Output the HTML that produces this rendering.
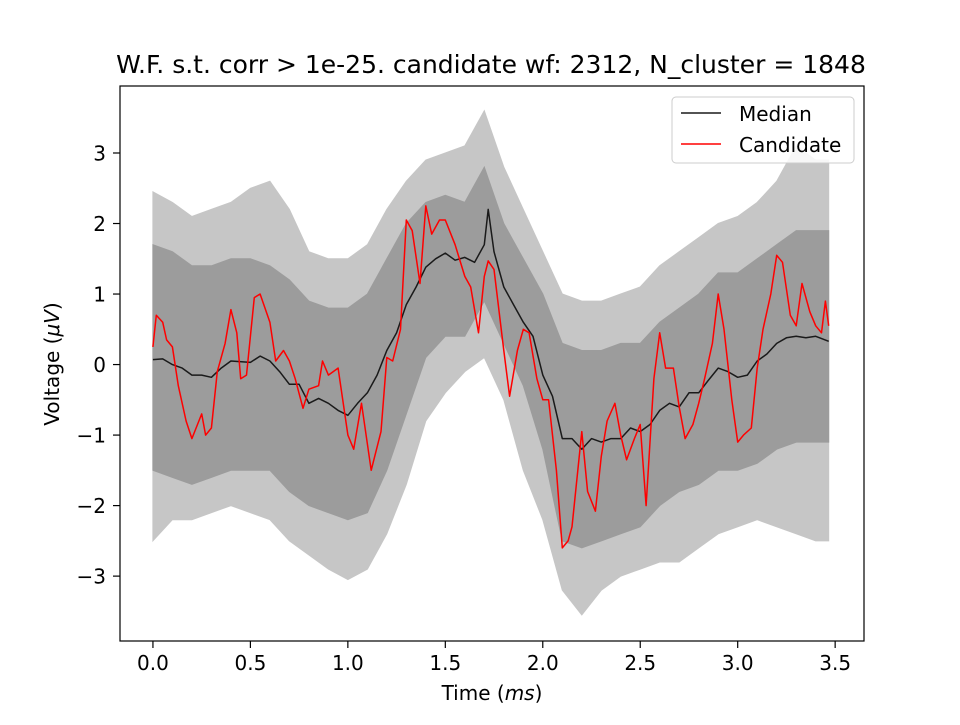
<!DOCTYPE html>
<html><head><meta charset="utf-8"><style>
body{margin:0;background:#fff}
svg text{font-family:"DejaVu Sans","Liberation Sans",sans-serif;fill:#000}
</style></head><body>
<svg id="chart" width="960" height="720" viewBox="0 0 960 720" xmlns="http://www.w3.org/2000/svg">
<rect width="960" height="720" fill="#fff"/>
<g id="plot"></g>
</svg>
<script>
const envT=[0,0.1,0.2,0.3,0.4,0.5,0.6,0.7,0.8,0.9,1.0,1.1,1.2,1.3,1.4,1.5,1.6,1.7,1.8,1.9,2.0,2.1,2.2,2.3,2.4,2.5,2.6,2.7,2.8,2.9,3.0,3.1,3.2,3.3,3.4,3.467];
const innerUp=[1.7,1.6,1.4,1.4,1.5,1.5,1.4,1.2,0.9,0.8,0.8,1.0,1.5,2.0,2.3,2.4,2.3,2.8,2.0,1.5,1.0,0.3,0.2,0.2,0.3,0.3,0.6,0.8,1.0,1.3,1.3,1.5,1.7,1.9,1.9,1.9];
const innerLo=[-1.5,-1.6,-1.7,-1.6,-1.5,-1.5,-1.5,-1.8,-2.0,-2.1,-2.2,-2.1,-1.5,-0.7,0.1,0.4,0.4,0.9,0.3,-0.3,-1.2,-2.5,-2.6,-2.5,-2.4,-2.3,-2.0,-1.8,-1.7,-1.5,-1.5,-1.4,-1.2,-1.1,-1.1,-1.1];
const outerUp=[2.45,2.3,2.1,2.2,2.3,2.5,2.6,2.2,1.6,1.5,1.5,1.7,2.2,2.6,2.9,3.0,3.1,3.6,2.8,2.2,1.6,1.0,0.9,0.9,1.0,1.1,1.4,1.6,1.8,2.0,2.1,2.3,2.6,3.1,2.9,2.9];
const outerLo=[-2.5,-2.2,-2.2,-2.1,-2.0,-2.1,-2.2,-2.5,-2.7,-2.9,-3.05,-2.9,-2.4,-1.7,-0.8,-0.4,-0.1,0.1,-0.5,-1.5,-2.2,-3.2,-3.55,-3.2,-3.0,-2.9,-2.8,-2.8,-2.6,-2.4,-2.3,-2.2,-2.3,-2.4,-2.5,-2.5];
const medT=[0,0.05,0.1,0.15,0.2,0.25,0.3,0.35,0.4,0.5,0.55,0.6,0.65,0.7,0.75,0.8,0.85,0.9,0.95,1.0,1.05,1.1,1.15,1.2,1.25,1.3,1.35,1.4,1.45,1.5,1.55,1.6,1.65,1.7,1.72,1.75,1.8,1.85,1.9,1.95,2.0,2.05,2.1,2.15,2.2,2.25,2.3,2.35,2.4,2.45,2.5,2.55,2.6,2.65,2.7,2.75,2.8,2.85,2.9,2.95,3.0,3.05,3.1,3.15,3.2,3.25,3.3,3.35,3.4,3.467];
const medV=[0.07,0.08,0.0,-0.05,-0.15,-0.15,-0.18,-0.05,0.05,0.03,0.12,0.05,-0.1,-0.28,-0.28,-0.55,-0.48,-0.55,-0.65,-0.72,-0.55,-0.4,-0.15,0.2,0.45,0.85,1.1,1.38,1.5,1.58,1.48,1.52,1.45,1.7,2.2,1.6,1.1,0.85,0.6,0.4,-0.15,-0.45,-1.05,-1.05,-1.2,-1.05,-1.1,-1.05,-1.05,-0.9,-0.95,-0.85,-0.65,-0.55,-0.6,-0.4,-0.4,-0.22,-0.05,-0.1,-0.18,-0.15,0.05,0.15,0.3,0.38,0.4,0.38,0.4,0.33];
const candT=[0,0.017,0.05,0.07,0.1,0.13,0.17,0.2,0.25,0.27,0.3,0.33,0.37,0.4,0.43,0.45,0.48,0.52,0.55,0.6,0.63,0.67,0.7,0.73,0.77,0.8,0.85,0.87,0.9,0.95,1.0,1.03,1.07,1.12,1.17,1.2,1.23,1.27,1.3,1.33,1.37,1.4,1.43,1.47,1.5,1.55,1.6,1.63,1.67,1.7,1.72,1.75,1.8,1.83,1.87,1.9,1.93,1.97,2.0,2.03,2.07,2.1,2.13,2.15,2.2,2.23,2.27,2.3,2.33,2.37,2.4,2.43,2.47,2.5,2.53,2.57,2.6,2.63,2.67,2.7,2.73,2.77,2.8,2.83,2.87,2.9,2.93,2.97,3.0,3.03,3.07,3.1,3.13,3.17,3.2,3.23,3.27,3.3,3.33,3.37,3.4,3.43,3.45,3.467];
const candV=[0.25,0.7,0.6,0.35,0.25,-0.3,-0.8,-1.05,-0.7,-1.0,-0.9,-0.1,0.3,0.78,0.45,-0.2,-0.15,0.95,1.0,0.6,0.05,0.2,0.05,-0.2,-0.62,-0.35,-0.3,0.05,-0.15,-0.05,-1.0,-1.2,-0.55,-1.5,-0.95,0.1,0.05,0.5,2.05,1.9,1.15,2.25,1.85,2.05,2.05,1.7,1.25,1.1,0.45,1.25,1.47,1.35,0.2,-0.45,0.2,0.5,0.45,-0.2,-0.5,-0.5,-1.5,-2.6,-2.5,-2.3,-0.95,-1.8,-2.08,-1.3,-0.8,-0.55,-1.0,-1.35,-1.05,-0.85,-2.0,-0.2,0.45,-0.05,-0.05,-0.6,-1.05,-0.85,-0.55,-0.2,0.3,1.0,0.5,-0.5,-1.1,-1.0,-0.9,-0.05,0.5,1.0,1.55,1.45,0.7,0.55,1.15,0.75,0.55,0.45,0.9,0.55];
const xTicks=[0,0.5,1.0,1.5,2.0,2.5,3.0,3.5];
const yTicks=[-3,-2,-1,0,1,2,3];

const L=120,R=864,T=86,B=641;
const xmin=-0.169,xmax=3.648,ymin=-3.92,ymax=3.95;
const X=v=>L+(v-xmin)/(xmax-xmin)*(R-L);
const Y=v=>B-(v-ymin)/(ymax-ymin)*(B-T);
const NS="http://www.w3.org/2000/svg";
const g=document.getElementById('plot');
function mk(tag,attrs,parent){const e=document.createElementNS(NS,tag);for(const k in attrs)e.setAttribute(k,attrs[k]);(parent||g).appendChild(e);return e;}
function band(up,lo,color){
  let d='M'+envT.map((t,i)=>X(t).toFixed(1)+','+Y(up[i]).toFixed(1)).join('L');
  d+='L'+envT.map((t,i)=>[t,i]).reverse().map(([t,i])=>X(t).toFixed(1)+','+Y(lo[i]).toFixed(1)).join('L')+'Z';
  return mk('path',{d:d,fill:color,stroke:color,'stroke-width':1});
}
function line(ts,vs,color,w){
  const d='M'+ts.map((t,i)=>X(t).toFixed(1)+','+Y(vs[i]).toFixed(1)).join('L');
  return mk('path',{d:d,fill:'none',stroke:color,'stroke-width':w,'stroke-linejoin':'round'});
}
const ob=band(outerUp,outerLo,'#c6c6c6');


const ib=band(innerUp,innerLo,'#9c9c9c');


const ml=line(medT,medV,'#1a1a1a',1.5);


const cl=line(candT,candV,'#ff0000',1.5);


const frame=mk('rect',{x:L,y:T,width:R-L,height:B-T,fill:'none',stroke:'#000','stroke-width':1.2});


xTicks.forEach(v=>{
  const x=X(v);
  const tk=mk('line',{x1:x,x2:x,y1:B,y2:B+7,stroke:'#000','stroke-width':1.2});
  
  
  const tx=mk('text',{x:x,y:B+29,'text-anchor':'middle','font-size':20});
  tx.textContent=v.toFixed(1);
  
  
});
yTicks.forEach(v=>{
  const y=Y(v);
  const tk=mk('line',{x1:L-7,x2:L,y1:y,y2:y,stroke:'#000','stroke-width':1.2});
  
  
  const tx=mk('text',{x:L-14,y:y+7.5,'text-anchor':'end','font-size':20});
  tx.textContent=(v<0?'\u2212':'')+Math.abs(v);
  
  
});
const title=mk('text',{x:491,y:73,'text-anchor':'middle','font-size':25});
title.textContent='W.F. s.t. corr > 1e-25. candidate wf: 2312, N_cluster = 1848';


const xl=mk('text',{x:492,y:700,'text-anchor':'middle','font-size':20});
xl.innerHTML='Time (<tspan font-style="italic">ms</tspan>)';


const yl=mk('text',{x:0,y:0,'text-anchor':'middle','font-size':20,transform:'translate(59,364) rotate(-90)'});
yl.innerHTML='Voltage (<tspan font-style="italic">\u03BCV</tspan>)';


const lg=mk('g',{});


mk('rect',{x:672,y:97,width:182,height:66,rx:4,fill:'#fff','fill-opacity':0.85,stroke:'#ccc','stroke-width':1},lg);
const e1=mk('g',{},lg);


mk('line',{x1:681,x2:721,y1:113,y2:113,stroke:'#1a1a1a','stroke-width':1.5},e1);
mk('text',{x:739,y:121,'font-size':20},e1).textContent='Median';
const e2=mk('g',{},lg);


mk('line',{x1:681,x2:721,y1:144,y2:144,stroke:'#ff0000','stroke-width':1.5},e2);
mk('text',{x:739,y:152,'font-size':20},e2).textContent='Candidate';
</script>
</body></html>
